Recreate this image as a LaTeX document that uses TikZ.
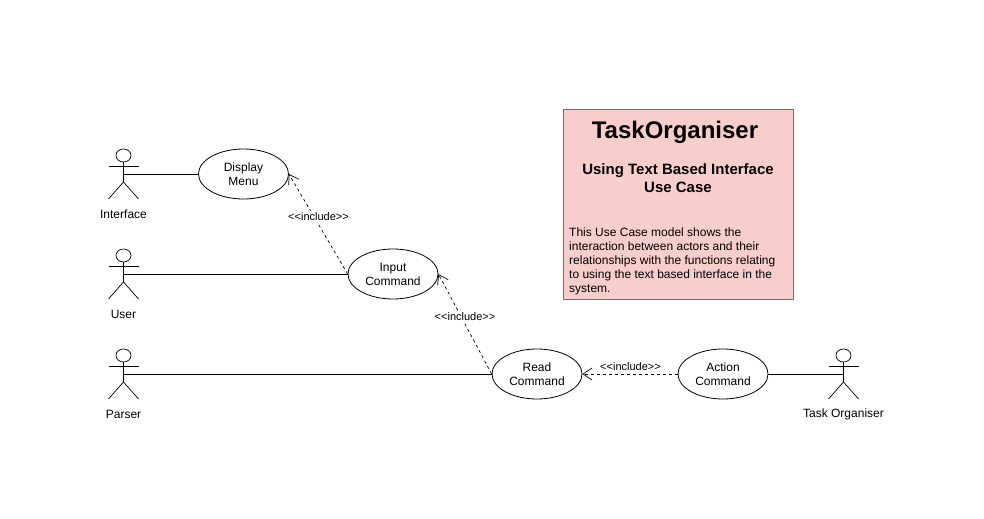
\documentclass[tikz,border=0pt]{standalone}
\usepackage{fontspec}
\setmainfont{Liberation Sans}
\usetikzlibrary{shapes.geometric,arrows.meta}
\definecolor{notefill}{HTML}{F8CECC}
\definecolor{notedraw}{HTML}{B85450}
\tikzset{
  usecase/.style={draw=black,line width=0.8bp,shape=ellipse,minimum width=90bp,minimum height=50bp,inner sep=0pt,align=center,font=\fontsize{12bp}{14bp}\selectfont,execute at begin node=\rule{0pt}{10.7bp}},
  assoc/.style={draw=black,line width=0.9bp},
  incl/.style={draw=black,line width=0.7bp,dash pattern=on 3bp off 3bp,-{Straight Barb[length=9bp,width=12bp,line width=0.7bp]}},
  incllabel/.style={font=\fontsize{11bp}{12bp}\selectfont,inner sep=1bp},
  actorlabel/.style={font=\fontsize{12bp}{14bp}\selectfont,inner sep=0pt},
  limb/.style={draw=black,line width=0.7bp},
  notetitle/.style={font=\fontsize{24bp}{28bp}\selectfont\bfseries,inner sep=0pt},
  notesub/.style={font=\fontsize{15bp}{18bp}\selectfont\bfseries,inner sep=0pt,align=center},
  notebody/.style={font=\fontsize{12bp}{14bp}\selectfont,inner sep=0pt,align=left,anchor=north west},
}
% name, x, top y, label
\newcommand{\umlactor}[4]{%
  \draw[limb] (#2,#3+6.5) ellipse (7.5 and 6.5);
  \draw[limb] (#2-15,#3+17) -- (#2+15,#3+17);
  \draw[limb] (#2,#3+13) -- (#2,#3+33);
  \draw[limb] (#2-15,#3+50) -- (#2,#3+33) -- (#2+15,#3+50);
  \coordinate (#1) at (#2,#3+25);
  \node[actorlabel] (#1label) at (#2,#3+65.3) {#4};
}
\begin{document}
\begin{tikzpicture}[x=1bp,y=-1bp]
\useasboundingbox (0,0) rectangle (984,519);
\fill[white] (0,0) rectangle (984,519);

\umlactor{interface}{123.5}{149}{Interface}
\umlactor{user}{123.5}{249}{User}
\umlactor{parser}{123.5}{349}{Parser}
\umlactor{organiser}{843.5}{349}{Task Organiser}

\node[usecase] (display) at (243.5,174) {Display\\Menu};
\node[usecase] (input) at (393,274) {Input\\Command};
\node[usecase] (read) at (537,374) {Read\\Command};
\node[usecase] (action) at (723,374) {Action\\Command};

\draw[assoc] (interface) -- (display);
\draw[assoc] (user) -- (input);
\draw[assoc] (parser) -- (read);
\draw[assoc] (organiser) -- (action);

\draw[incl] (input.west) -- (display.east);
\draw[incl] (read.west) -- (input.east);
\draw[incl] (action.west) -- (read.east);
\node[incllabel,fill=white] (l1) at (318.5,216.5) {<{}<include>{}>};
\node[incllabel,fill=white] (l2) at (465,316.5) {<{}<include>{}>};
\node[incllabel] (l3) at (630.5,366.5) {<{}<include>{}>};

\node[draw=notedraw,fill=notefill,line width=0.8bp,minimum width=230bp,minimum height=190bp,inner sep=0pt] (note) at (678,204) {};
\node[notetitle] (ntitle) at (675,132) {TaskOrganiser};
\node[notesub] (nsub) at (678,178) {Using Text Based Interface\\Use Case};
\node[notebody] (nbody) at (569,227.5) {This Use Case model shows the\\interaction between actors and their\\relationships with the functions relating\\to using the text based interface in the\\system.};
\end{tikzpicture}
\end{document}
